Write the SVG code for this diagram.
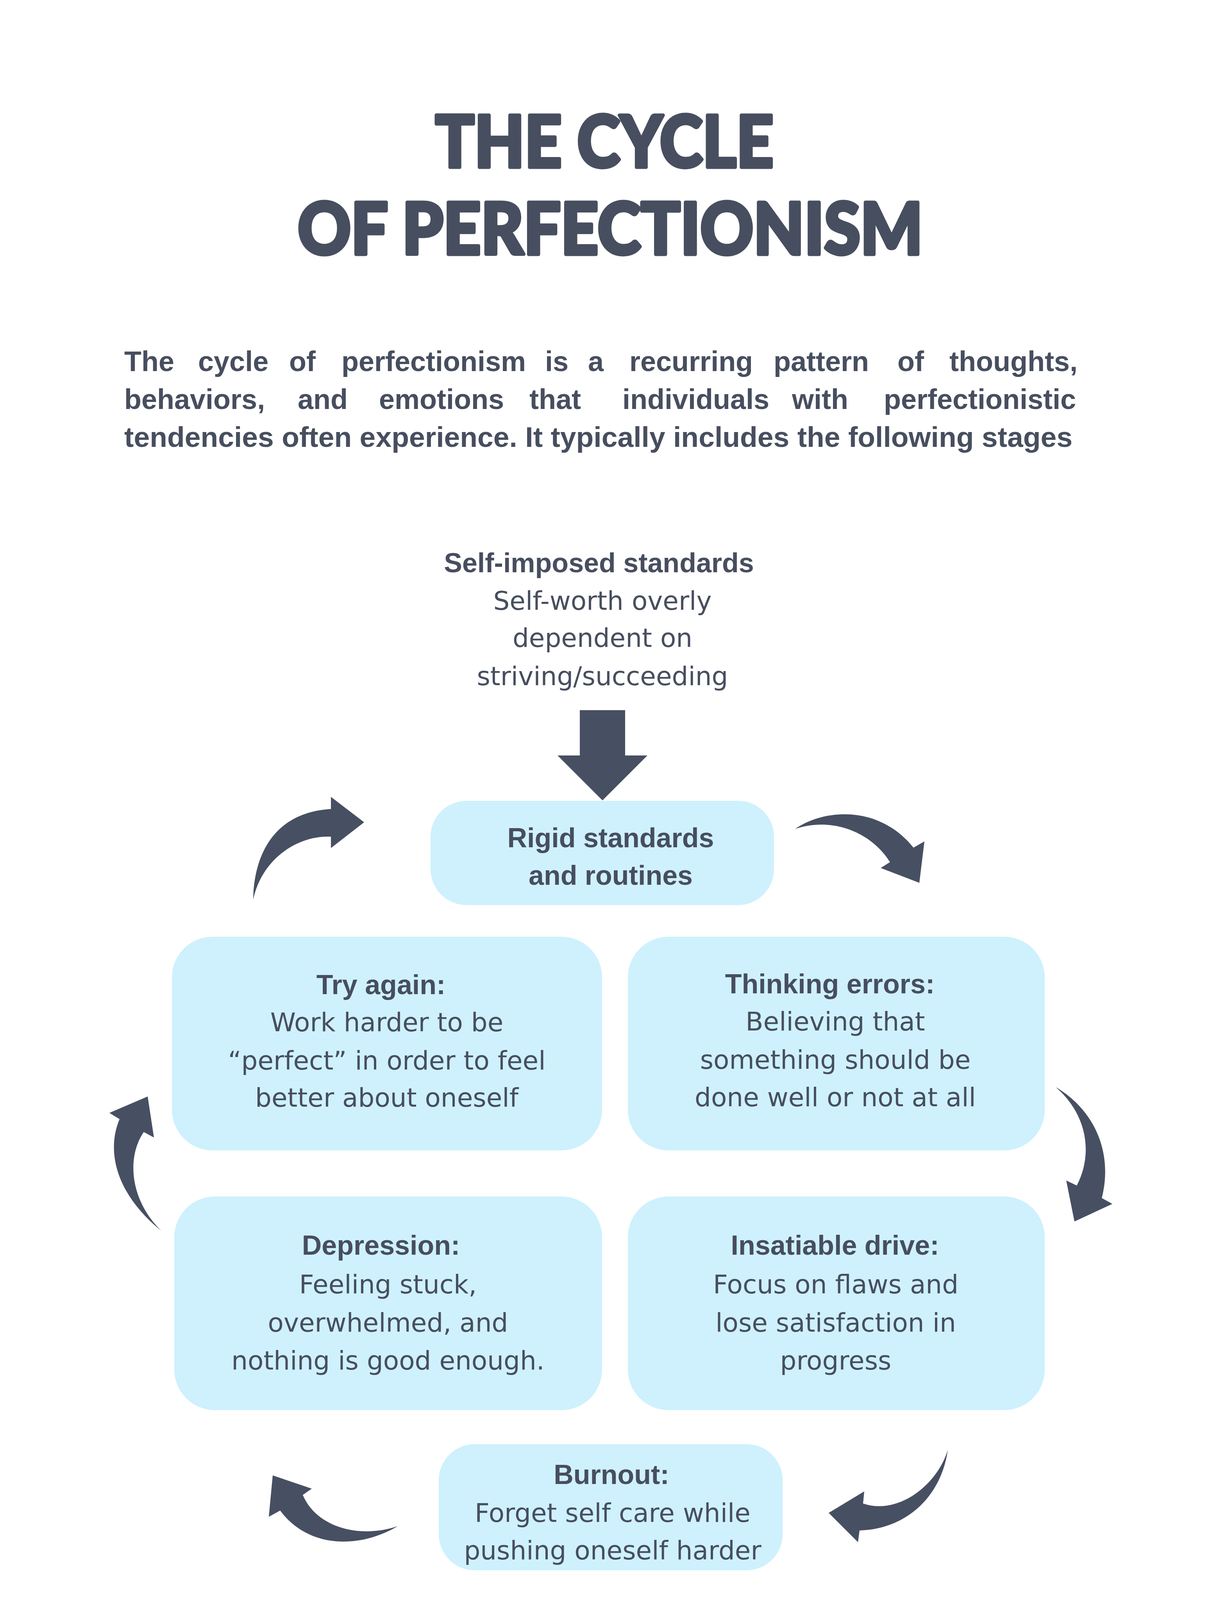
<svg xmlns="http://www.w3.org/2000/svg" width="3120" height="4368" viewBox="0 0 3120 4368">
<style>
.title{font-family:Lato,"Liberation Sans",sans-serif;font-weight:900;font-size:184px;fill:#474E5F;stroke:#474E5F;stroke-width:9px;stroke-linejoin:round}
.para{font-family:"Liberation Sans",Arial,sans-serif;font-weight:bold;font-size:72px;fill:#474E5F}
.hd{font-family:"Liberation Sans",Arial,sans-serif;font-weight:bold;font-size:70px;fill:#474E5F;text-anchor:middle}
.bd{font-family:"DejaVu Sans",sans-serif;font-size:66px;fill:#474E5F;text-anchor:middle}
.box{fill:#CEF1FD}
.arr{fill:#474F62}
</style>
<rect width="3120" height="4368" fill="#FFFFFF"/>
<g id="title">
<text class="title" x="1114" y="428" textLength="866" lengthAdjust="spacingAndGlyphs">THE CYCLE</text>
<text class="title" x="762" y="651" textLength="1600" lengthAdjust="spacingAndGlyphs">OF PERFECTIONISM</text>
</g>
<g id="intro">
<text class="para" y="950"><tspan x="318">The</tspan><tspan x="507">cycle</tspan><tspan x="740">of</tspan><tspan x="874">perfectionism</tspan><tspan x="1395">is</tspan><tspan x="1505">a</tspan><tspan x="1611">recurring</tspan><tspan x="1980">pattern</tspan><tspan x="2297">of</tspan><tspan x="2430">thoughts,</tspan></text>
<text class="para" y="1047"><tspan x="318">behaviors,</tspan><tspan x="762">and</tspan><tspan x="970">emotions</tspan><tspan x="1355">that</tspan><tspan x="1593">individuals</tspan><tspan x="2027">with</tspan><tspan x="2262">perfectionistic</tspan></text>
<text class="para" x="318" y="1144" textLength="2427" lengthAdjust="spacingAndGlyphs">tendencies often experience. It typically includes the following stages</text>
</g>
<g id="self-imposed">
<text class="hd" x="1533" y="1465">Self-imposed standards</text>
<text class="bd" x="1542" y="1561">Self-worth overly</text>
<text class="bd" x="1542" y="1656">dependent on</text>
<text class="bd" x="1542" y="1754">striving/succeeding</text>
</g>
<g id="rigid">
<rect class="box" x="1102" y="2050" width="879" height="267" rx="92" ry="92"/>
<text class="hd" x="1563" y="2169">Rigid standards</text>
<text class="hd" x="1563" y="2265">and routines</text>
</g>
<g id="try-again">
<rect class="box" x="440" y="2398" width="1101" height="547" rx="104" ry="104"/>
<text class="hd" x="975" y="2545">Try again:</text>
<text class="bd" x="990" y="2640">Work harder to be</text>
<text class="bd" x="990" y="2738">“perfect” in order to feel</text>
<text class="bd" x="990" y="2833">better about oneself</text>
</g>
<g id="thinking-errors">
<rect class="box" x="1607" y="2398" width="1067" height="547" rx="104" ry="104"/>
<text class="hd" x="2124" y="2543">Thinking errors:</text>
<text class="bd" x="2138" y="2638">Believing that</text>
<text class="bd" x="2138" y="2736">something should be</text>
<text class="bd" x="2138" y="2832">done well or not at all</text>
</g>
<g id="depression">
<rect class="box" x="446" y="3063" width="1095" height="547" rx="104" ry="104"/>
<text class="hd" x="975" y="3212">Depression:</text>
<text class="bd" x="993" y="3311">Feeling stuck,</text>
<text class="bd" x="993" y="3409">overwhelmed, and</text>
<text class="bd" x="993" y="3506">nothing is good enough.</text>
</g>
<g id="insatiable-drive">
<rect class="box" x="1607" y="3063" width="1067" height="547" rx="104" ry="104"/>
<text class="hd" x="2137" y="3212">Insatiable drive:</text>
<text class="bd" x="2139" y="3311">Focus on flaws and</text>
<text class="bd" x="2139" y="3409">lose satisfaction in</text>
<text class="bd" x="2139" y="3506">progress</text>
</g>
<g id="burnout">
<rect class="box" x="1123" y="3697" width="880" height="323" rx="92" ry="92"/>
<text class="hd" x="1565" y="3799">Burnout:</text>
<text class="bd" x="1568" y="3896">Forget self care while</text>
<text class="bd" x="1568" y="3992">pushing oneself harder</text>
</g>
<g id="connectors">
<path class="arr" d="M1484,1818 H1600 V1934 H1657 L1542,2049 L1427,1934 H1484 Z"/>
<path class="arr" d="M2035,2122 C2110,2070 2250,2060 2338,2170 L2366,2154 L2353,2260 L2254,2222 L2278,2207 C2230,2130 2130,2090 2035,2122 Z"/>
<path class="arr" d="M2702,2783 C2800,2840 2850,2950 2820,3067 L2847,3082 L2750,3127 L2729,3022 L2756,3035 C2800,2950 2780,2850 2702,2783 Z"/>
<path class="arr" d="M2426,3711 C2410,3830 2320,3915 2200,3918 L2196,3948 L2121,3873 L2212,3818 L2209,3849 C2300,3880 2400,3800 2426,3711 Z"/>
<path class="arr" d="M1018,3907 C920,3965 790,3965 717,3867 L688,3883 L698,3777 L798,3811 L775,3827 C810,3910 920,3940 1018,3907 Z"/>
<path class="arr" d="M413,3151 C300,3060 270,2950 306,2865 L280,2849 L378,2807 L394,2912 L368,2898 C325,2960 330,3070 413,3151 Z"/>
<path class="arr" d="M648,2303 C650,2190 700,2080 847,2071 L847,2040 L932,2105 L847,2171 L847,2142 C760,2138 670,2200 648,2303 Z"/>
</g>
</svg>
